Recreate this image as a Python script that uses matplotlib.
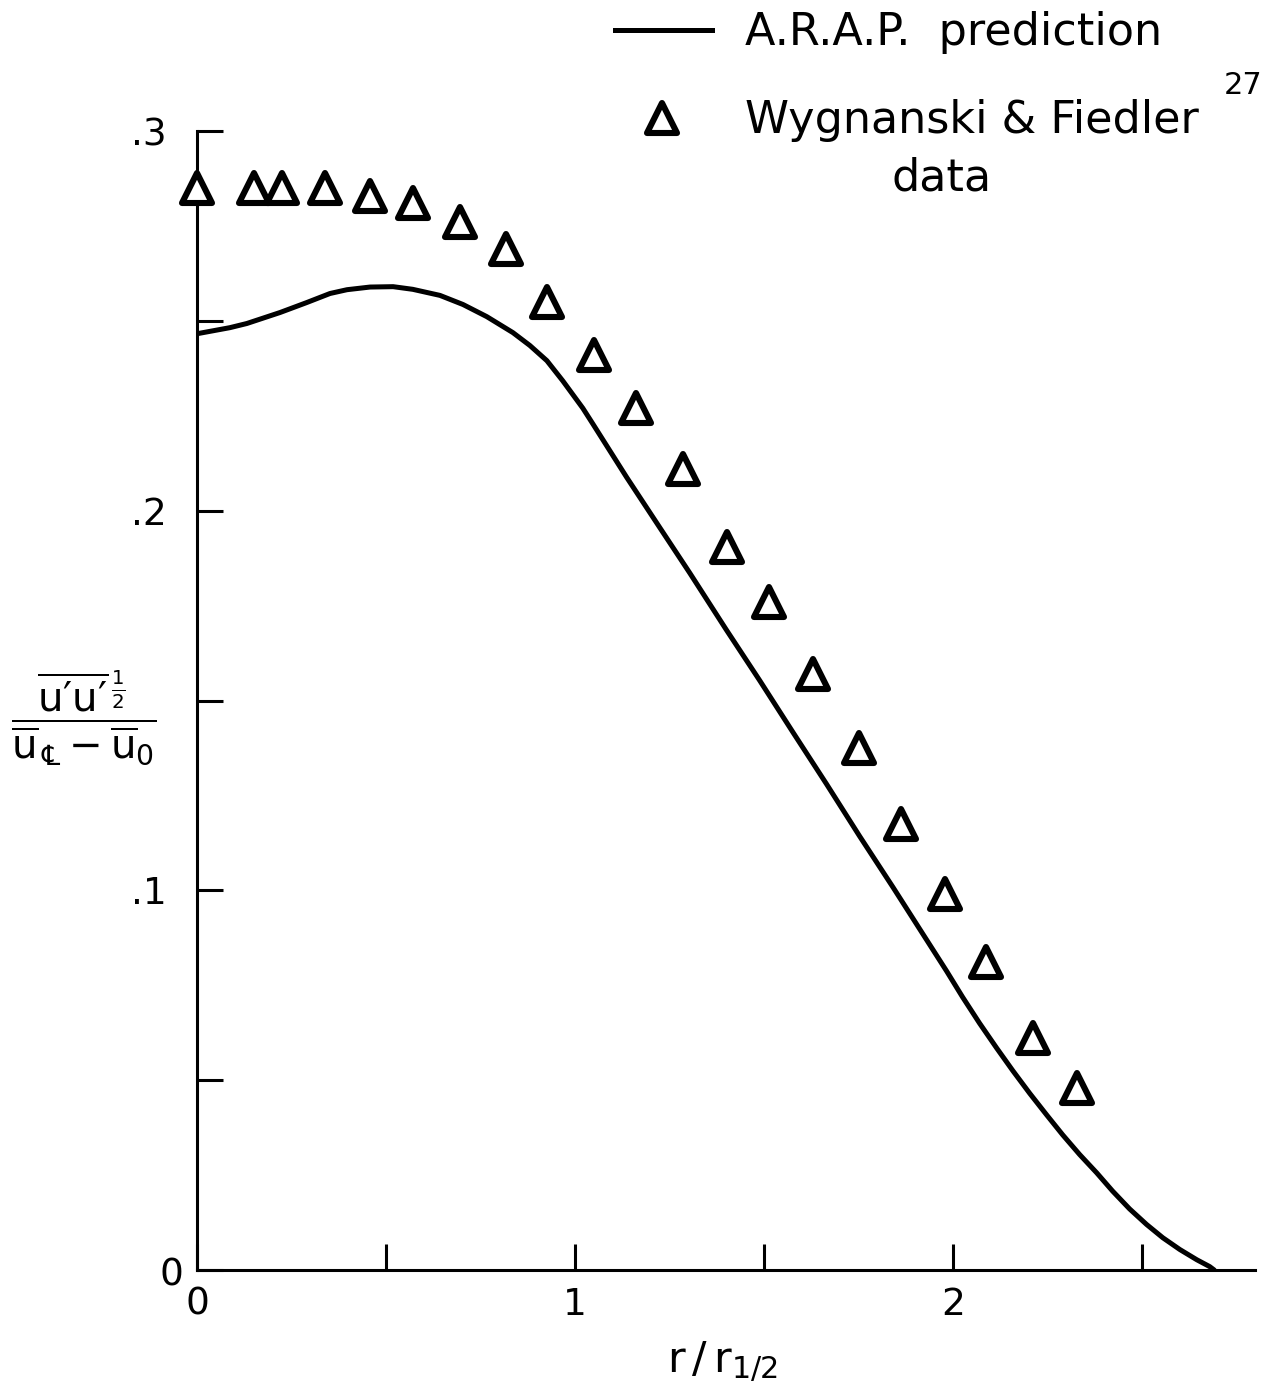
import matplotlib
matplotlib.use("Agg")
import matplotlib.pyplot as plt
from matplotlib.lines import Line2D
from matplotlib.markers import MarkerStyle
from matplotlib.ticker import FixedLocator, NullFormatter

plt.rcParams['font.family'] = ['DejaVu Sans']
plt.rcParams['mathtext.fontset'] = 'dejavusans'

# A.R.A.P. prediction (solid curve)
r_pred = [0.0, 0.087, 0.132, 0.22, 0.29, 0.352, 0.397, 0.458, 0.519, 0.571, 0.643,
          0.704, 0.767, 0.836, 0.881, 0.926, 0.968, 1.021, 1.048, 1.137, 1.225,
          1.304, 1.401, 1.489, 1.578, 1.666, 1.754, 1.842, 1.921, 1.984, 2.026,
          2.071, 2.116, 2.159, 2.204, 2.249, 2.291, 2.336, 2.381, 2.423, 2.468,
          2.513, 2.556, 2.601, 2.646, 2.680, 2.692]
u_pred = [0.2466, 0.2482, 0.2493, 0.2522, 0.2548, 0.2572, 0.2582, 0.2589, 0.259, 0.2583, 0.2567,
          0.2543, 0.2511, 0.2469, 0.2435, 0.2395, 0.2342, 0.2270, 0.2228, 0.2088, 0.1955,
          0.1836, 0.1686, 0.1553, 0.1415, 0.1280, 0.1142, 0.1008, 0.0885, 0.0787, 0.0719,
          0.0650, 0.0585, 0.0525, 0.0465, 0.0408, 0.0356, 0.0304, 0.0256, 0.0208, 0.0161,
          0.0120, 0.0085, 0.0054, 0.0027, 0.0009, 0.0]

# Wygnanski & Fiedler data (triangles)
r_data = [0.0, 0.151, 0.225, 0.339, 0.458, 0.571, 0.696, 0.817, 0.926, 1.050, 1.161,
          1.286, 1.402, 1.513, 1.630, 1.751, 1.862, 1.979, 2.087, 2.212, 2.328]
u_data = [0.285, 0.285, 0.285, 0.285, 0.283, 0.281, 0.276, 0.269, 0.255, 0.241, 0.227,
          0.211, 0.1905, 0.176, 0.157, 0.1375, 0.1175, 0.099, 0.081, 0.061, 0.048]

x_major = [0, 1, 2]
x_major_labels = ["0", "1", "2"]
x_minor = [0.5, 1.5, 2.5]
y_major = [0.1, 0.2, 0.3]
y_major_labels = [".1", ".2", ".3"]
y_minor = [0.0, 0.05, 0.15, 0.25]

W, H = 1288, 1393
fig = plt.figure(figsize=(W / 100, H / 100), dpi=100)


def fpos(x, y):
    return x / W, 1 - y / H


ax = fig.add_axes([197 / W, 1 - 1270 / H, (1255 - 197) / W, (1270 - 131) / H])
ax.set_xlim(0, 2.8)
ax.set_ylim(0, 0.3)
for s in ("top", "right"):
    ax.spines[s].set_visible(False)
for s in ("left", "bottom"):
    ax.spines[s].set_linewidth(2.2)

ax.xaxis.set_major_locator(FixedLocator(x_major))
ax.set_xticklabels(x_major_labels)
ax.xaxis.set_minor_locator(FixedLocator(x_minor))
ax.yaxis.set_major_locator(FixedLocator(y_major))
ax.set_yticklabels(y_major_labels)
ax.yaxis.set_minor_locator(FixedLocator(y_minor))
ax.xaxis.set_minor_formatter(NullFormatter())
ax.yaxis.set_minor_formatter(NullFormatter())

ax.tick_params(which="both", direction="in", length=19, width=2.2, labelsize=27)
ax.tick_params(axis="x", which="major", pad=12)
ax.tick_params(axis="y", which="major", pad=22)

# zero label on the y axis, set slightly below the origin
ax.annotate("0", xy=(0, 0), xytext=(-10, -4), textcoords="offset points",
            ha="right", va="center", fontsize=27)

ax.plot(r_pred, u_pred, color="black", lw=3.6, solid_joinstyle="round",
        solid_capstyle="round", zorder=3)

tri = MarkerStyle("^", joinstyle="round")
ax.plot(r_data, u_data, ls="none", marker=tri, ms=21, mew=4.4, mec="black",
        mfc="white", clip_on=False, zorder=5)

# axis titles
fig.text(*fpos(722, 1362), r"$\mathregular{r\,/\,r_{1/2}}$", fontsize=31,
         ha="center", va="center")
fig.text(*fpos(84, 718),
         r"$\dfrac{\overline{\mathrm{u}′\mathrm{u}′}^{\,\frac{1}{2}}}"
         r"{\overline{\mathrm{u}}_{\,℄}-\overline{\mathrm{u}}_{\mathrm{0}}}$",
         fontsize=29, ha="center", va="center")

# legend
fig.add_artist(Line2D([615 / W, 712 / W], [1 - 30 / H, 1 - 30 / H],
                      color="black", lw=3.6, transform=fig.transFigure))
fig.text(*fpos(745, 32), "A.R.A.P.  prediction", fontsize=32, ha="left", va="center")
fig.add_artist(Line2D([662 / W], [1 - 118 / H], marker=tri, ms=21, mew=4.4,
                      mec="black", mfc="white", transform=fig.transFigure))
fig.text(*fpos(745, 121), "Wygnanski & Fiedler", fontsize=32, ha="left", va="center")
fig.text(*fpos(1224, 86), "27", fontsize=22, ha="left", va="center")
fig.text(*fpos(942, 178), "data", fontsize=32, ha="center", va="center")

fig.savefig("out.png", dpi=100, facecolor="white")
